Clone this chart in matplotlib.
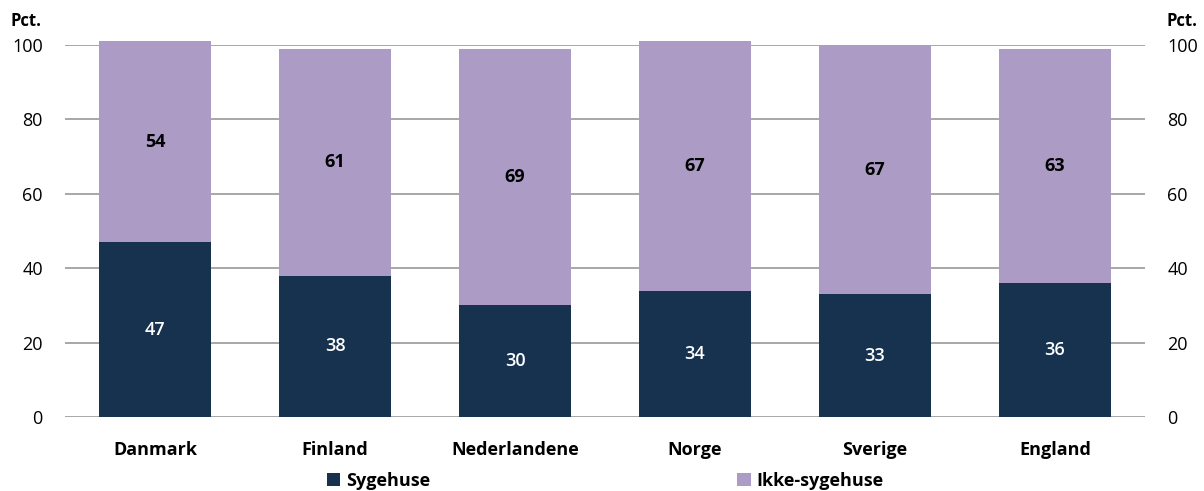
import matplotlib.pyplot as plt
import numpy as np

plt.rcParams['font.family'] = ['Open Sans', 'DejaVu Sans']

countries = ["Danmark", "Finland", "Nederlandene", "Norge", "Sverige", "England"]
sygehuse = [47, 38, 30, 34, 33, 36]
ikke_sygehuse = [54, 61, 69, 67, 67, 63]

navy = "#17324f"
lilla = "#ab9bc5"

fig = plt.figure(figsize=(12.04, 4.91), dpi=100)
ax = fig.add_axes([65 / 1204, 74 / 491, 1080 / 1204, 372 / 491])

x = np.arange(len(countries))
ax.bar(x, sygehuse, width=0.62, color=navy, label="Sygehuse", zorder=3,
       clip_on=False)
ax.bar(x, ikke_sygehuse, width=0.62, bottom=sygehuse, color=lilla,
       label="Ikke-sygehuse", zorder=3, clip_on=False)

for i in range(len(countries)):
    ax.text(x[i], sygehuse[i] / 2, str(sygehuse[i]), ha="center", va="center",
            color="white", fontsize=13, fontweight="semibold", zorder=4)
    ax.text(x[i], sygehuse[i] + ikke_sygehuse[i] / 2, str(ikke_sygehuse[i]),
            ha="center", va="center", color="black", fontsize=13,
            fontweight="bold", zorder=4)

ax.set_xlim(-0.5, len(countries) - 0.5)
ax.set_ylim(0, 100)
ax.set_yticks(range(0, 101, 20))
ax.grid(axis="y", color="#a0a0a0", linewidth=1.3, zorder=0)
for s in ax.spines.values():
    s.set_visible(False)
ax.tick_params(axis="y", length=0, labelsize=13, pad=16)
ax.tick_params(axis="x", length=0, labelsize=13, pad=17)
ax.set_xticks(x)
ax.set_xticklabels(countries, fontweight="bold")

ax2 = ax.twinx()
ax2.set_ylim(0, 100)
ax2.set_yticks(range(0, 101, 20))
for s in ax2.spines.values():
    s.set_visible(False)
ax2.tick_params(axis="y", length=0, labelsize=13, pad=16)

fig.text(10 / 1204, 1 - 21 / 491, "Pct.", fontsize=12, fontweight="bold",
         va="center", ha="left")
fig.text(1198 / 1204, 1 - 21 / 491, "Pct.", fontsize=12, fontweight="bold",
         va="center", ha="right")

leg = ax.legend(loc="center", bbox_to_anchor=(0.5, -0.172), ncol=2, frameon=False,
                handlelength=0.75, handleheight=0.75, handletextpad=0.3,
                columnspacing=17, prop={"size": 13, "weight": "bold"})

fig.savefig("out.png", dpi=100)
